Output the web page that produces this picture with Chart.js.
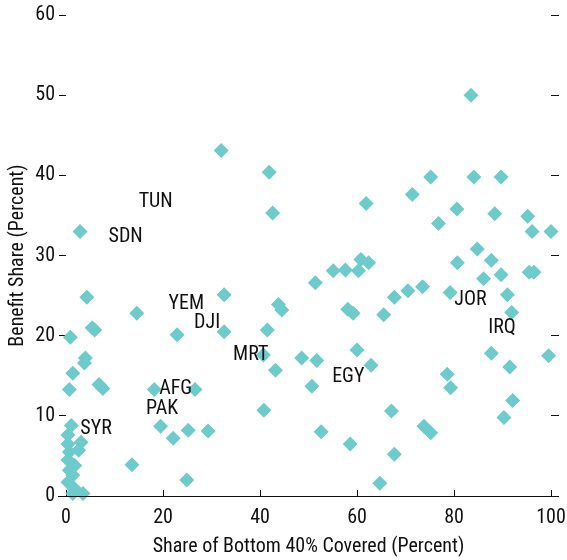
<!DOCTYPE html>
<html>
<head>
<meta charset="utf-8">
<script src="https://cdn.jsdelivr.net/npm/chart.js@4"></script>
<style>
  html, body { margin: 0; padding: 0; background: #fff; }
  #wrap { width: 567px; height: 560px; position: relative; }
</style>
</head>
<body>
<div id="wrap"><canvas id="chart"></canvas></div>
<script>
// Share of bottom 40% covered (x) vs benefit share (y), both in percent
const coverage = [
  1.1, 0.4, 3.1, 0.4, 2.6, 0.7, 0.4, 1.8, 0.7, 1.4, 0.4, 1.8, 1.4, 3.5,
  2.9, 4.3, 14.6, 5.4, 5.9, 0.9, 22.9, 4.0, 3.8, 1.4, 0.7, 6.8, 7.6, 18.2, 26.6,
  19.5, 22.1, 25.2, 29.3, 13.6, 24.9,
  32.0, 41.9, 42.6, 32.6, 43.8, 44.5, 41.5, 32.6, 40.7, 48.6, 51.7, 43.2, 50.7,
  40.8, 52.6, 58.6, 51.4, 55.1, 57.6, 60.3, 60.8, 62.4, 58.1, 59.2, 60.0, 62.9,
  61.9, 65.5, 67.7, 70.5, 73.5, 64.7,
  83.5, 75.2, 84.1, 89.7, 71.4, 80.6, 88.4, 95.2, 76.8, 96.1, 100, 84.8, 87.7,
  80.7, 86.1, 89.7, 95.5, 96.5, 79.2, 91.0, 91.9, 87.7, 99.5, 91.5, 78.6, 79.3,
  67.1, 92.1, 90.3, 73.8, 75.2, 67.7
];
const benefit = [
  8.8, 7.6, 6.7, 6.5, 5.7, 5.5, 4.5, 3.8, 3.2, 2.6, 1.7, 0.9, 0.3, 0.3,
  33.0, 24.8, 22.8, 21.0, 20.7, 19.8, 20.1, 17.2, 16.6, 15.3, 13.3, 13.9, 13.4, 13.3, 13.3,
  8.7, 7.2, 8.2, 8.1, 3.9, 2.0,
  43.1, 40.4, 35.3, 25.1, 23.9, 23.2, 20.7, 20.5, 17.6, 17.2, 16.9, 15.7, 13.7,
  10.7, 8.0, 6.5, 26.6, 28.1, 28.2, 28.1, 29.5, 29.1, 23.3, 22.8, 18.2, 16.3,
  36.5, 22.6, 24.8, 25.6, 26.1, 1.6,
  50.0, 39.8, 39.8, 39.8, 37.6, 35.8, 35.2, 34.9, 34.0, 33.0, 33.0, 30.8, 29.4,
  29.1, 27.1, 27.6, 27.9, 27.9, 25.4, 25.1, 22.9, 17.8, 17.5, 16.1, 15.2, 13.5,
  10.6, 11.9, 9.8, 8.7, 7.9, 5.2
];

// country labels and where they sit (data units)
const labelNames = ['TUN', 'SDN', 'YEM', 'DJI', 'MRT', 'EGY', 'AFG', 'PAK', 'SYR', 'JOR', 'IRQ'];
const labelX = [18.5, 12.3, 24.8, 29.1, 38.1, 58.2, 22.6, 19.8, 6.2, 83.4, 89.9];
const labelY = [36.7, 32.3, 24.0, 21.6, 17.6, 14.9, 13.4, 10.9, 8.4, 24.5, 21.0];

const xTicks = [0, 20, 40, 60, 80, 100];
const yTicks = [0, 10, 20, 30, 40, 50, 60];

const FONT = "'Roboto Condensed', 'Arial Narrow', sans-serif";
const INK = '#111';

const points = coverage.map((x, i) => ({ x: x, y: benefit[i] }));

const countryLabels = {
  id: 'countryLabels',
  afterDatasetsDraw(chart) {
    const { ctx, scales } = chart;
    ctx.save();
    ctx.font = '20px ' + FONT;
    ctx.fillStyle = INK;
    ctx.textAlign = 'center';
    ctx.textBaseline = 'middle';
    labelNames.forEach((name, i) => {
      ctx.fillText(name, scales.x.getPixelForValue(labelX[i]), scales.y.getPixelForValue(labelY[i]));
    });
    ctx.restore();
  }
};

// the baseline runs a little past both ends of the plot
const baseline = {
  id: 'baseline',
  afterDraw(chart) {
    const { ctx, chartArea } = chart;
    ctx.save();
    ctx.strokeStyle = INK;
    ctx.lineWidth = 1;
    ctx.beginPath();
    ctx.moveTo(chartArea.left - 8, Math.round(chartArea.bottom) + 0.5);
    ctx.lineTo(chartArea.right + 8, Math.round(chartArea.bottom) + 0.5);
    ctx.stroke();
    ctx.restore();
  }
};

const tickFont = { family: FONT, size: 20 };

new Chart(document.getElementById('chart'), {
  type: 'scatter',
  data: {
    datasets: [{
      data: points,
      pointStyle: 'rectRot',
      pointRadius: 7.5,
      pointHoverRadius: 7.5,
      backgroundColor: 'rgb(110, 203, 204)',
      borderWidth: 0,
      clip: false
    }]
  },
  options: {
    responsive: true,
    maintainAspectRatio: false,
    animation: false,
    layout: { padding: { top: 15, left: 0, right: 0, bottom: 0 } },
    plugins: {
      legend: { display: false },
      tooltip: { enabled: false }
    },
    scales: {
      x: {
        type: 'linear',
        min: 0,
        max: 100,
        afterBuildTicks: s => { s.ticks = xTicks.map(v => ({ value: v })); },
        afterFit: s => { s.height = 64; s.paddingLeft = 0; s.paddingRight = 0; },
        grid: { drawOnChartArea: false, drawTicks: true, tickLength: -6, color: INK },
        border: { display: false },
        ticks: { font: tickFont, color: INK, padding: 16, maxRotation: 0 },
        title: {
          display: true,
          text: 'Share of Bottom 40% Covered (Percent)',
          font: tickFont,
          color: INK,
          padding: { top: 0, bottom: 1 }
        }
      },
      y: {
        type: 'linear',
        position: 'left',
        min: 0,
        max: 60,
        afterBuildTicks: s => { s.ticks = yTicks.map(v => ({ value: v })); },
        afterFit: s => { s.width = 66; s.paddingTop = 0; s.paddingBottom = 0; },
        grid: { drawOnChartArea: false, drawTicks: true, tickLength: 7, color: INK },
        border: { display: false },
        ticks: { font: tickFont, color: INK, padding: 4 },
        title: {
          display: true,
          text: 'Benefit Share (Percent)',
          font: tickFont,
          color: INK,
          padding: { top: 6, bottom: 0 }
        }
      },
      y2: {
        type: 'linear',
        position: 'right',
        min: 0,
        max: 60,
        afterBuildTicks: s => { s.ticks = yTicks.map(v => ({ value: v })); },
        afterFit: s => { s.width = 16; s.paddingTop = 0; s.paddingBottom = 0; },
        grid: { drawOnChartArea: false, drawTicks: true, tickLength: 8, color: INK },
        border: { display: false },
        ticks: { display: false }
      }
    }
  },
  plugins: [countryLabels, baseline]
});
</script>
</body>
</html>
